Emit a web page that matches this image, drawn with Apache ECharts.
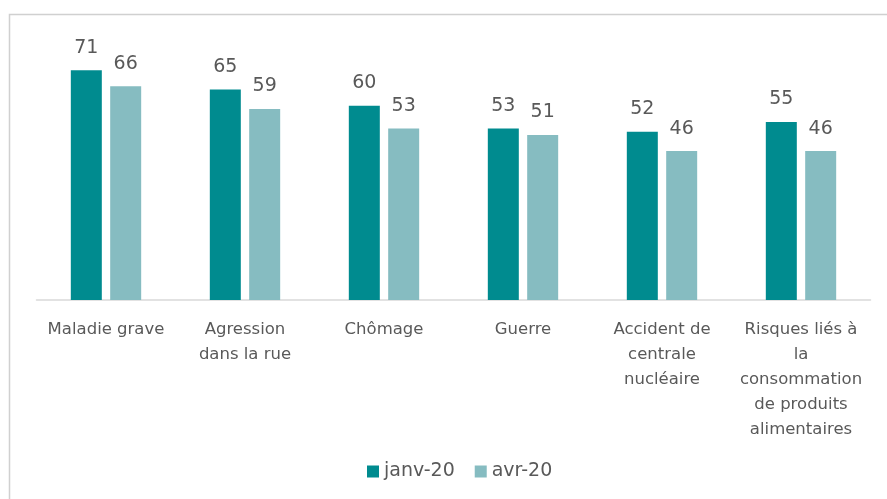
<!DOCTYPE html>
<html>
<head>
<meta charset="utf-8">
<script src="https://cdn.jsdelivr.net/npm/echarts@6/dist/echarts.min.js"></script>
<style>
  html, body { margin: 0; padding: 0; background: #fff; }
  #main { width: 887px; height: 499px; }
</style>
</head>
<body>
<div id="main"></div>
<script>
var categories = [
  'Maladie grave',
  'Agression\ndans la rue',
  'Chômage',
  'Guerre',
  'Accident de\ncentrale\nnucléaire',
  'Risques liés à\nla\nconsommation\nde produits\nalimentaires'
];
var janv20 = [71, 65, 60, 53, 52, 55];
var avr20 = [66, 59, 53, 51, 46, 46];

var chart = echarts.init(document.getElementById('main'));
var txt = '#595959';
var font = 'DejaVu Sans';

var option = {
  animation: false,
  textStyle: { fontFamily: font },
  graphic: [{
    type: 'rect',
    shape: { x: 9.5, y: 14.5, width: 900, height: 520 },
    style: { fill: 'none', stroke: '#D0D0D0', lineWidth: 1.5 }
  }],
  legend: {
    data: ['janv-20', 'avr-20'],
    bottom: 13,
    left: 362,
    itemWidth: 12,
    itemHeight: 12,
    itemGap: 20,
    icon: 'rect',
    textStyle: { color: txt, fontSize: 19, fontFamily: font }
  },
  grid: { left: 36.5, right: 16.5, top: 41, bottom: 199 },
  xAxis: {
    type: 'category',
    data: categories,
    axisLine: { lineStyle: { color: '#D9D9D9', width: 1.5 } },
    axisTick: { show: false },
    axisLabel: {
      color: txt, fontSize: 16.5, lineHeight: 25, margin: 17,
      interval: 0, fontFamily: font
    }
  },
  yAxis: {
    type: 'value',
    min: 0,
    max: 80,
    show: false,
    splitLine: { show: false }
  },
  series: [
    {
      name: 'janv-20',
      type: 'bar',
      data: janv20,
      barWidth: 31,
      barGap: '27%',
      itemStyle: { color: '#008B8F' },
      label: { show: true, position: 'top', distance: 13, color: txt, fontSize: 19, fontFamily: font }
    },
    {
      name: 'avr-20',
      type: 'bar',
      data: avr20,
      barWidth: 31,
      itemStyle: { color: '#86BCC1' },
      label: { show: true, position: 'top', distance: 13, color: txt, fontSize: 19, fontFamily: font }
    }
  ]
};
chart.setOption(option);
</script>
</body>
</html>
